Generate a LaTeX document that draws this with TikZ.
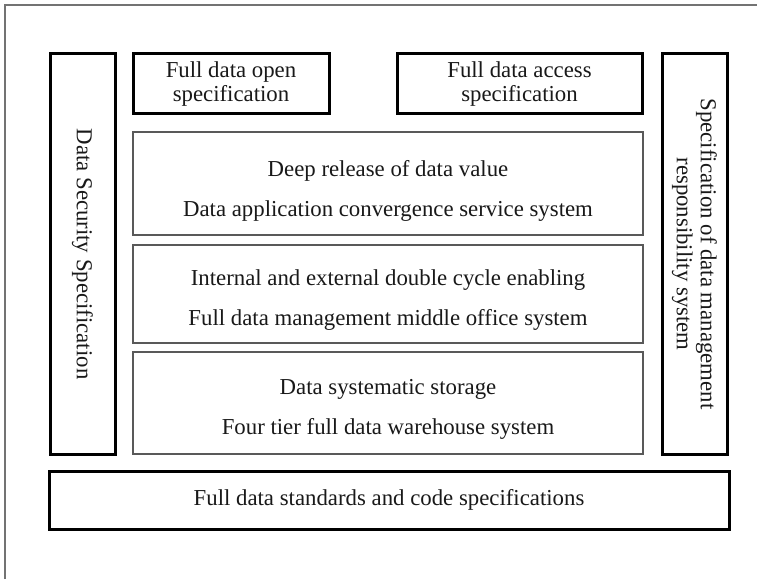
\documentclass[tikz,border=0pt]{standalone}
\usepackage{fontspec}
\setmainfont{Liberation Serif}
\begin{document}
\begin{tikzpicture}[x=1pt,y=-1pt,
  heavybox/.style={draw=black,line width=3pt,fill=white},
  layerbox/.style={draw=black!65,line width=1.3pt,fill=white},
  frameline/.style={draw=black!55,line width=1.4pt},
  lbl/.style={font=\fontsize{22.8}{24}\selectfont,align=center,text=black!90,inner sep=0pt},
  lbltall/.style={font=\fontsize{22.8}{40}\selectfont,align=center,text=black!90,inner sep=0pt}]
\useasboundingbox (0,0) rectangle (757,579);
\fill[white] (0,0) rectangle (757,579);
% outer frame (partially visible)
\draw[frameline] (5,579) -- (5,5) -- (757,5);

% side pillars
\draw[heavybox] (50,53) rectangle (115,454);
\node[lbl,rotate=-90] (sec) at (82.5,254) {Data Security Specification};
\draw[heavybox] (662,53) rectangle (727,454);
\node[lbl,rotate=-90] (resp) at (694.5,254) {Specification of data management\\responsibility system};

% top specification boxes
\draw[heavybox] (133,53) rectangle (329,113);
\node[lbl] (open) at (231,84) {Full data open\\specification};
\draw[heavybox] (397,53) rectangle (642,113);
\node[lbl] (access) at (519.5,84) {Full data access\\specification};

% three stacked layers
\draw[layerbox] (133,132) rectangle (643,235);
\node[lbltall] (value) at (388,191) {Deep release of data value\\Data application convergence service system};
\draw[layerbox] (133,245) rectangle (643,343);
\node[lbltall] (cycle) at (388,300) {Internal and external double cycle enabling\\Full data management middle office system};
\draw[layerbox] (133,352) rectangle (643,454);
\node[lbltall] (store) at (388,409) {Data systematic storage\\Four tier full data warehouse system};

% foundation
\draw[heavybox] (49,471) rectangle (729,529);
\node[lbl] (std) at (389,500) {Full data standards and code specifications};
\end{tikzpicture}
\end{document}
